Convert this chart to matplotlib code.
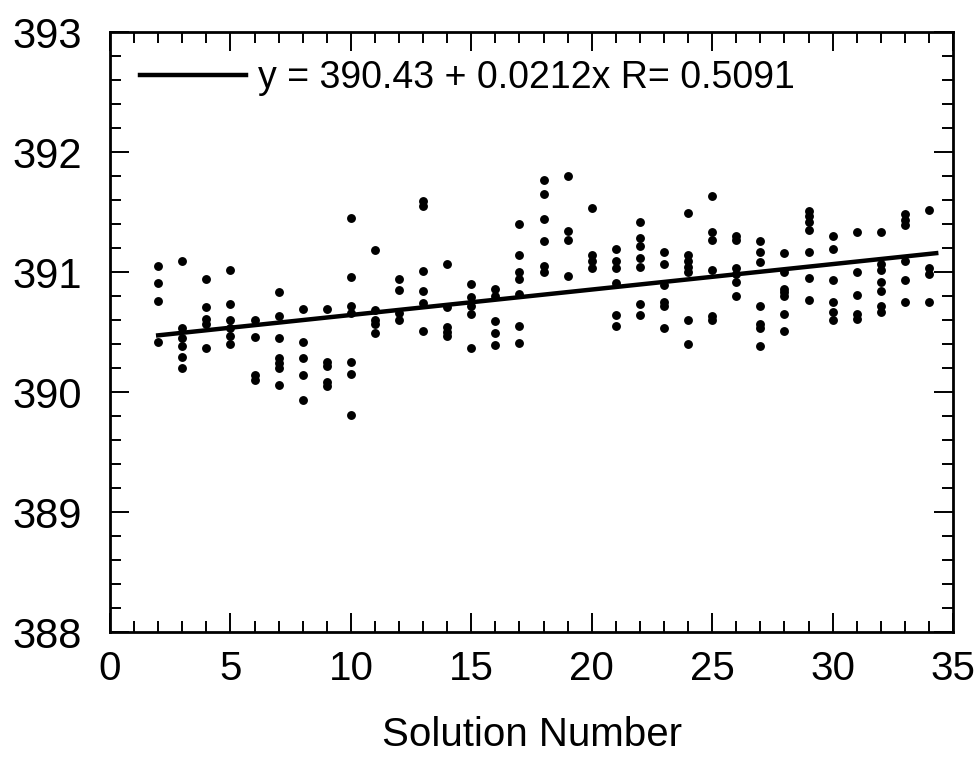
import numpy as np
import matplotlib
matplotlib.use('Agg')
import matplotlib.pyplot as plt
from matplotlib.ticker import MultipleLocator

plt.rcParams['font.family'] = ['Liberation Sans', 'DejaVu Sans']

# values, one list per solution
s2 = [391.05, 390.91, 390.76, 390.42]
s3 = [391.09, 390.53, 390.45, 390.38, 390.29, 390.20]
s4 = [390.94, 390.71, 390.61, 390.57, 390.37]
s5 = [391.02, 390.73, 390.60, 390.53, 390.47, 390.40]
s6 = [390.60, 390.46, 390.14, 390.10]
s7 = [390.83, 390.63, 390.45, 390.28, 390.24, 390.20, 390.06]
s8 = [390.69, 390.42, 390.28, 390.14, 389.93]
s9 = [390.69, 390.25, 390.22, 390.08, 390.05]
s10 = [391.45, 390.96, 390.72, 390.66, 390.25, 390.15, 389.81]
s11 = [391.18, 390.68, 390.60, 390.57, 390.49]
s12 = [390.94, 390.85, 390.66, 390.60]
s13 = [391.59, 391.55, 391.01, 390.84, 390.74, 390.51]
s14 = [391.07, 390.71, 390.54, 390.50, 390.47]
s15 = [390.90, 390.79, 390.72, 390.65, 390.37]
s16 = [390.86, 390.80, 390.59, 390.49, 390.39]
s17 = [391.40, 391.14, 391.00, 390.94, 390.82, 390.55, 390.41]
s18 = [391.77, 391.65, 391.44, 391.26, 391.05, 391.00]
s19 = [391.80, 391.34, 391.27, 390.97]
s20 = [391.53, 391.14, 391.09, 391.03]
s21 = [391.19, 391.09, 391.03, 390.91, 390.64, 390.55]
s22 = [391.42, 391.28, 391.22, 391.12, 391.04, 390.73, 390.64]
s23 = [391.17, 391.07, 390.89, 390.75, 390.72, 390.53]
s24 = [391.49, 391.14, 391.09, 391.04, 391.00, 390.60, 390.40]
s25 = [391.63, 391.33, 391.27, 391.02, 390.63, 390.60]
s26 = [391.30, 391.27, 391.03, 390.98, 390.92, 390.80]
s27 = [391.26, 391.17, 391.08, 390.72, 390.57, 390.53, 390.38]
s28 = [391.16, 391.00, 390.86, 390.83, 390.80, 390.65, 390.51]
s29 = [391.51, 391.47, 391.42, 391.35, 391.17, 390.95, 390.77]
s30 = [391.30, 391.19, 390.93, 390.75, 390.67, 390.60]
s31 = [391.33, 391.00, 390.81, 390.65, 390.61]
s32 = [391.33, 391.07, 391.02, 390.92, 390.84, 390.72, 390.67]
s33 = [391.48, 391.43, 391.39, 391.09, 390.93, 390.75]
s34 = [391.52, 391.03, 390.98, 390.75]

solutions = list(range(2, 35))
columns = [s2, s3, s4, s5, s6, s7, s8, s9, s10, s11, s12, s13, s14, s15, s16,
           s17, s18, s19, s20, s21, s22, s23, s24, s25, s26, s27, s28, s29,
           s30, s31, s32, s33, s34]

# fit printed on the figure
intercept = 390.43
slope = 0.0212
r_value = 0.5091

x = np.concatenate([[n] * len(c) for n, c in zip(solutions, columns)])
y = np.concatenate(columns)

fig = plt.figure(figsize=(9.78, 7.59), dpi=100)
ax = fig.add_axes([0.1125, 0.1673, 0.862, 0.7905])

xfit = np.array([min(solutions), max(solutions) + 0.3])
ax.plot(xfit, intercept + slope * xfit, color='black', lw=3.2,
        label='y = %.2f + %.4fx R= %.4f' % (intercept, slope, r_value))
ax.plot(x, y, 'o', color='black', markersize=6.4, markeredgewidth=0)

ax.set_xlim(0, 35)
ax.set_ylim(388, 393)
ax.xaxis.set_major_locator(MultipleLocator(5))
ax.xaxis.set_minor_locator(MultipleLocator(1))
ax.yaxis.set_major_locator(MultipleLocator(1))
ax.yaxis.set_minor_locator(MultipleLocator(0.2))

ax.tick_params(which='both', direction='in', top=True, right=True,
               width=1.4, labelsize=30)
ax.tick_params(which='major', length=14)
ax.tick_params(which='minor', length=8)
ax.tick_params(axis='y', pad=20)
ax.tick_params(axis='x', pad=13, labelsize=29)
for sp in ax.spines.values():
    sp.set_linewidth(2)

ax.set_xlabel('Solution Number', fontsize=29, labelpad=20)

ax.legend(loc='upper left', bbox_to_anchor=(0.035, 0.953), frameon=False,
          fontsize=27, handlelength=2.85, handletextpad=0.3,
          borderpad=0, borderaxespad=0)

fig.savefig('out.png', dpi=100)
